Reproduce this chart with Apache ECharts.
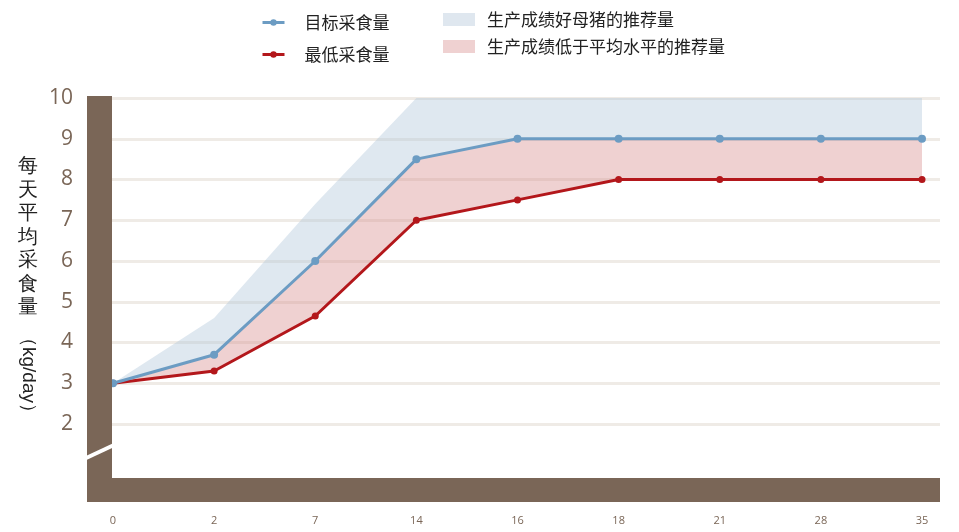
<!DOCTYPE html>
<html>
<head>
<meta charset="utf-8">
<script src="https://cdn.jsdelivr.net/npm/echarts@6/dist/echarts.min.js"></script>
<style>html,body{margin:0;padding:0;background:#fff}#c{width:959px;height:532px}</style>
</head>
<body>
<div id="c"></div>
<script>
// Data
var categories = ['0', '2', '7', '14', '16', '18', '21', '28', '35'];
var targetIntake = [3, 3.7, 6, 8.5, 9, 9, 9, 9, 9];        // 目标采食量
var minIntake = [3, 3.3, 4.65, 7, 7.5, 8, 8, 8, 8];        // 最低采食量
var goodSowTop = [3, 4.6, 7.4, 10, 10, 10, 10, 10, 10];    // 生产成绩好母猪的推荐量 (upper edge)
var yTicks = [2, 3, 4, 5, 6, 7, 8, 9, 10];

var BROWN = '#7a6657';
var FONT = '"Noto Sans CJK SC", "Noto Sans", sans-serif';

// band thicknesses for stacking (derived from the arrays above)
var pinkBand = targetIntake.map(function (v, i) { return +(v - minIntake[i]).toFixed(3); });
var blueBand = goodSowTop.map(function (v, i) { return +(v - targetIntake[i]).toFixed(3); });

var chart = echarts.init(document.getElementById('c'), null, { renderer: 'canvas' });

var option = {
  animation: false,
  backgroundColor: '#fff',
  textStyle: { fontFamily: FONT },
  grid: [
    { left: 112, right: 19, top: 98, bottom: 108 },
    { left: 113, right: 37, top: 98, bottom: 108 }
  ],
  xAxis: [
    { gridIndex: 0, type: 'category', data: categories, show: false },
    {
      gridIndex: 1, type: 'category', data: categories, boundaryGap: false,
      axisLine: { show: false }, axisTick: { show: false },
      axisLabel: { color: BROWN, fontSize: 11, margin: 91, fontFamily: '"Open Sans", sans-serif' },
      splitLine: { show: false }
    }
  ],
  yAxis: [
    {
      gridIndex: 0, type: 'value', min: yTicks[0], max: yTicks[yTicks.length - 1], interval: 1,
      axisLine: { show: false }, axisTick: { show: false },
      axisLabel: { color: BROWN, fontSize: 21, margin: 39, fontFamily: '"Open Sans", sans-serif' },
      splitLine: { show: true, lineStyle: { color: '#efebe6', width: 3 } }
    },
    {
      gridIndex: 1, type: 'value', min: yTicks[0], max: yTicks[yTicks.length - 1], interval: 1,
      show: false, splitLine: { show: false }
    }
  ],
  legend: [
    {
      data: ['目标采食量', '最低采食量'],
      orient: 'vertical', left: 256, top: 9, itemGap: 15,
      itemWidth: 22, itemHeight: 8,
      lineStyle: { width: 3 },
      textStyle: { fontSize: 17, color: '#222', fontFamily: FONT, padding: [0, 0, 0, 15] }
    },
    {
      data: [
        { name: '生产成绩好母猪的推荐量', icon: 'rect', itemStyle: { color: '#dfe7ef' } },
        { name: '生产成绩低于平均水平的推荐量', icon: 'rect', itemStyle: { color: '#efd1d1' } }
      ],
      orient: 'vertical', left: 438, top: 6, itemGap: 10,
      itemWidth: 32, itemHeight: 13,
      textStyle: { fontSize: 17, color: '#222', fontFamily: FONT, padding: [0, 0, 0, 7] }
    }
  ],
  graphic: [
    { type: 'rect', shape: { x: 87, y: 96, width: 25, height: 406 }, style: { fill: BROWN }, z: 10 },
    { type: 'rect', shape: { x: 87, y: 478, width: 853, height: 24 }, style: { fill: BROWN }, z: 10 },
    { type: 'line', shape: { x1: 84, y1: 459, x2: 114, y2: 445 }, style: { stroke: '#fff', lineWidth: 4 }, z: 11 },
    {
      type: 'text', x: 28, y: 155, z: 12,
      style: { text: '每\n天\n平\n均\n采\n食\n量', fontSize: 20, lineHeight: 23.5, fill: '#222', font: '20px "Noto Sans CJK SC"', align: 'center', verticalAlign: 'top' }
    },
    {
      type: 'text', x: 28, y: 375, rotation: -Math.PI / 2, z: 12,
      style: { text: '（kg/day）', fontSize: 19, fill: '#222', font: '19px "Noto Sans CJK SC"', align: 'center', verticalAlign: 'middle' }
    }
  ],
  series: [
    {
      name: 'base', type: 'line', xAxisIndex: 1, yAxisIndex: 1, stack: 'band',
      data: minIntake, showSymbol: false, silent: true,
      lineStyle: { width: 0, opacity: 0 }, z: 2
    },
    {
      name: '生产成绩低于平均水平的推荐量', type: 'line', xAxisIndex: 1, yAxisIndex: 1, stack: 'band',
      data: pinkBand, showSymbol: false, silent: true,
      itemStyle: { color: '#efd1d1' },
      lineStyle: { width: 0, opacity: 0 },
      areaStyle: { color: 'rgba(214,140,140,0.4)', opacity: 1 }, z: 2
    },
    {
      name: '生产成绩好母猪的推荐量', type: 'line', xAxisIndex: 1, yAxisIndex: 1, stack: 'band',
      data: blueBand, showSymbol: false, silent: true,
      itemStyle: { color: '#dfe7ef' },
      lineStyle: { width: 0, opacity: 0 },
      areaStyle: { color: 'rgba(176,198,218,0.4)', opacity: 1 }, z: 2
    },
    {
      name: '目标采食量', type: 'line', xAxisIndex: 1, yAxisIndex: 1,
      data: targetIntake, symbol: 'circle', symbolSize: 8,
      itemStyle: { color: '#6c9cc3' }, lineStyle: { color: '#6c9cc3', width: 3 }, z: 5
    },
    {
      name: '最低采食量', type: 'line', xAxisIndex: 1, yAxisIndex: 1,
      data: minIntake, symbol: 'circle', symbolSize: 7,
      itemStyle: { color: '#b3171b' }, lineStyle: { color: '#b3171b', width: 3 }, z: 4
    }
  ]
};
chart.setOption(option);
</script>
</body>
</html>
